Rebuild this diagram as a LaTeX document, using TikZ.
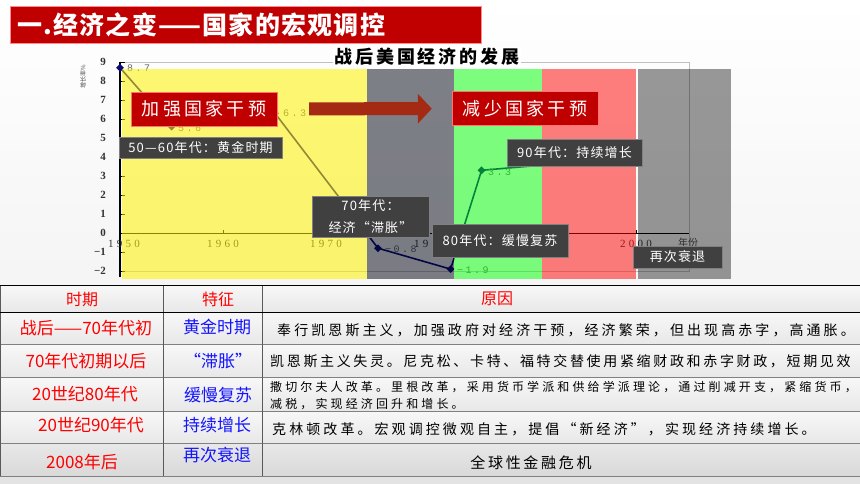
\documentclass[tikz,border=0pt]{standalone}
\usepackage{fontspec}
\setmainfont{Noto Sans CJK SC}
\newfontfamily\serifnum{Liberation Serif}
\newfontfamily\valfont{Liberation Mono}
\usetikzlibrary{shapes.geometric,arrows.meta}

\definecolor{barred}{RGB}{192,0,0}
\definecolor{arrowred}{RGB}{165,42,20}
\definecolor{boxgray}{RGB}{64,64,64}
\definecolor{lineblue}{RGB}{10,10,120}
\definecolor{bandgray}{RGB}{0,3,18}
\definecolor{periodred}{RGB}{255,0,0}
\definecolor{featblue}{RGB}{20,20,255}

\newcommand{\spaced}[1]{\addfontfeature{LetterSpace=#1}}

\tikzstyle{redlab}=[fill=barred, draw=red!55, text=white, inner sep=0pt, minimum width=146pt, minimum height=34pt, font=\fontsize{18}{18}\selectfont\spaced{18}]
\tikzstyle{blklab}=[fill=boxgray, draw=black!50, text=white, inner sep=0pt, font=\fontsize{13}{22}\selectfont\spaced{9}]
\tikzstyle{dot}=[diamond, fill=lineblue, inner sep=0pt, minimum width=8pt, minimum height=8pt]
\tikzstyle{dline}=[draw=lineblue, line width=1.6pt]
\tikzstyle{val}=[anchor=west, inner sep=0pt, text=black!60, font=\valfont\fontsize{10}{10}\selectfont\spaced{25}]
\tikzstyle{ylab}=[anchor=east, inner sep=0pt, text=black!80, font=\serifnum\bfseries\fontsize{11}{11}\selectfont]
\tikzstyle{year}=[inner sep=0pt, text=black!80, font=\serifnum\fontsize{11}{11}\selectfont\spaced{30}]
\tikzstyle{bigarrow}=[draw=arrowred, line width=13pt, -{Triangle[length=14pt,width=29pt]}, shorten <=32pt, shorten >=20pt]
\tikzstyle{period}=[inner sep=0pt, text=periodred, font=\fontsize{17}{17}\selectfont]
\tikzstyle{feature}=[inner sep=0pt, text=featblue, font=\fontsize{17}{17}\selectfont]
\tikzstyle{reason}=[anchor=west, inner sep=0pt, text=black, font=\fontsize{14}{14}\selectfont\spaced{22}]
\tikzstyle{rowbg}=[top color=black!3, bottom color=black!9]

\begin{document}
\begin{tikzpicture}[x=1pt, y=-1pt]
\useasboundingbox (0,0) rectangle (860,484);
\shade[top color=white, bottom color=black!7] (0,0) rectangle (860,484);

% title bar
\node[fill=barred, draw=red!45, inner sep=0pt, minimum width=471pt, minimum height=37pt] (bar) at (245.5,24.5) {};
\node[anchor=west, inner sep=0pt, text=white, font=\bfseries\fontsize{25}{25}\selectfont\spaced{5}] (title) at (17,25) {一.经济之变——国家的宏观调控};

% plot frame and axes
\draw[black!25] (120,62) rectangle (689,271);
\node[fill=white, inner sep=1pt, font=\bfseries\fontsize{18}{18}\selectfont\spaced{16}] (head) at (427,57) {战后美国经济的发展};

\coordinate (o) at (120,233);
\coordinate (xend) at (689,233);
\coordinate (ytop) at (120,62);
\coordinate (ybot) at (120,277);
\draw[black] (o) -- (xend);
\draw[black] (223,233) -- (223,230) (326,233) -- (326,230) (429,233) -- (429,230) (533,233) -- (533,230) (636,233) -- (636,230);
\draw[black, line width=2.4pt] (ytop) -- (ybot);
\draw[black] (120,62) -- (125,62) (120,81) -- (125,81) (120,100) -- (125,100) (120,119) -- (125,119)
  (120,138) -- (125,138) (120,157) -- (125,157) (120,176) -- (125,176) (120,195) -- (125,195)
  (120,214) -- (125,214) (120,252) -- (125,252) (120,271) -- (125,271);

\node[ylab] (y9) at (106,62) {9};
\node[ylab] (y8) at (106,81) {8};
\node[ylab] (y7) at (106,100) {7};
\node[ylab] (y6) at (106,119) {6};
\node[ylab] (y5) at (106,138) {5};
\node[ylab] (y4) at (106,157) {4};
\node[ylab] (y3) at (106,176) {3};
\node[ylab] (y2) at (106,195) {2};
\node[ylab] (y1) at (106,214) {1};
\node[ylab] (y0) at (106,233) {0};
\node[ylab] (ym1) at (106,252) {−1};
\node[ylab] (ym2) at (106,271) {−2};
\node[rotate=90, inner sep=0pt, text=black!70, font=\fontsize{6}{6}\selectfont] (yname) at (83,77) {增长率\%};

\node[year] (x1950) at (124,244) {1950};
\node[year] (x1960) at (223,244) {1960};
\node[year] (x1970) at (326,244) {1970};
\node[year] (x1980) at (430,244) {1980};
\node[year] (x2000) at (636,244) {2000};
\node[inner sep=0pt, text=black!70, font=\fontsize{10}{10}\selectfont] (xname) at (688,243) {年份};

% growth rates
\node[dot] (p1) at (120,67.7) {};
\node[dot] (p2) at (171.7,126.6) {};
\node[dot] (p3) at (275,113.3) {};
\node[dot] (p4) at (378,248.2) {};
\node[dot] (p5) at (450.6,269.1) {};
\node[dot] (p6) at (481.6,170.3) {};
\node[dot] (p7) at (636.7,157) {};
\draw[dline] (p1.center) -- (p2.center) -- (p3.center) -- (p4.center) -- (p5.center) -- (p6.center) -- (p7.center);

\node[val] (v1) at (127,68) {8.7};
\node[val] (v2) at (178,128) {5.6};
\node[val] (v3) at (283,113.3) {6.3};
\node[val] (v4) at (385,249) {−0.8};
\node[val] (v5) at (457,270) {−1.9};
\node[val] (v6) at (488,172) {3.3};

% periods
\fill[yellow, opacity=.55] (122,69) rectangle (367,279);
\fill[bandgray, opacity=.5] (367,69) rectangle (454,279);
\fill[green, opacity=.5] (454,69) rectangle (542,279);
\fill[red, opacity=.5] (542,69) rectangle (636,279);
\fill[black, opacity=.4] (638,69) rectangle (731,279);

\node[redlab] (more) at (204,109) {加强国家干预};
\node[redlab] (less) at (525,108.5) {减少国家干预};
\draw[bigarrow] (more) -- (less);

\node[blklab, minimum width=163pt, minimum height=21pt] (gold) at (200.5,147.5) {50—60年代：黄金时期};
\node[blklab, minimum width=117pt, minimum height=41pt, align=center] (stag) at (370.5,216.5) {70年代：\\经济“滞胀”};
\node[blklab, minimum width=136pt, minimum height=33pt] (slow) at (500,240.5) {80年代：缓慢复苏};
\node[blklab, minimum width=135pt, minimum height=27pt] (grow) at (574.5,152.5) {90年代：持续增长};
\node[blklab, minimum width=89pt, minimum height=22pt] (again) at (677.5,257) {再次衰退};

% table
\shade[rowbg] (0,285) rectangle (860,312);
\shade[rowbg] (0,312) rectangle (860,344);
\shade[rowbg] (0,344) rectangle (860,377);
\shade[rowbg] (0,377) rectangle (860,411);
\shade[rowbg] (0,411) rectangle (860,443);
\shade[top color=black!9, bottom color=black!15] (0,443) rectangle (860,476);
\fill[black!11] (0,476) rectangle (860,484);
\draw[black!50, line width=1pt] (0,344) -- (860,344) (0,377) -- (860,377) (0,411) -- (860,411) (0,443) -- (860,443) (0,476) -- (860,476);
\draw[black!65, line width=0.8pt] (163,285) -- (163,476) (262,285) -- (262,476) (0.5,285) -- (0.5,476);
\draw[black, line width=1pt] (0,285) -- (860,285) (0,312) -- (860,312);

\node[period, font=\fontsize{16}{16}\selectfont] (h1) at (82,299) {时期};
\node[period, font=\fontsize{16}{16}\selectfont] (h2) at (218,299) {特征};
\node[period, font=\fontsize{16}{16}\selectfont] (h3) at (497,299) {原因};

\node[period] (a1) at (86,328) {战后——70年代初};
\node[period] (a2) at (86,361) {70年代初期以后};
\node[period] (a3) at (85,394) {20世纪80年代};
\node[period] (a4) at (91,425) {20世纪90年代};
\node[period] (a5) at (82,462) {2008年后};

\node[feature] (b1) at (217,327) {黄金时期};
\node[feature] (b2) at (218,361) {“滞胀”};
\node[feature] (b3) at (218,395) {缓慢复苏};
\node[feature] (b4) at (217,425) {持续增长};
\node[feature] (b5) at (217,455) {再次衰退};

\node[reason] (c1) at (277,330) {奉行凯恩斯主义，加强政府对经济干预，经济繁荣，但出现高赤字，高通胀。};
\node[reason, font=\fontsize{14}{14}\selectfont\spaced{19}] (c2) at (270,361) {凯恩斯主义失灵。尼克松、卡特、福特交替使用紧缩财政和赤字财政，短期见效};
\node[reason, align=left, font=\fontsize{12}{17}\selectfont\spaced{26}] (c3) at (270,395.5) {撒切尔夫人改革。里根改革，采用货币学派和供给学派理论，通过削减开支，紧缩货币，\\减税，实现经济回升和增长。};
\node[reason] (c4) at (272,429) {克林顿改革。宏观调控微观自主，提倡“新经济”，实现经济持续增长。};
\node[reason, anchor=center, font=\fontsize{15}{15}\selectfont\spaced{18}] (c5) at (531,463) {全球性金融危机};

\end{tikzpicture}
\end{document}
